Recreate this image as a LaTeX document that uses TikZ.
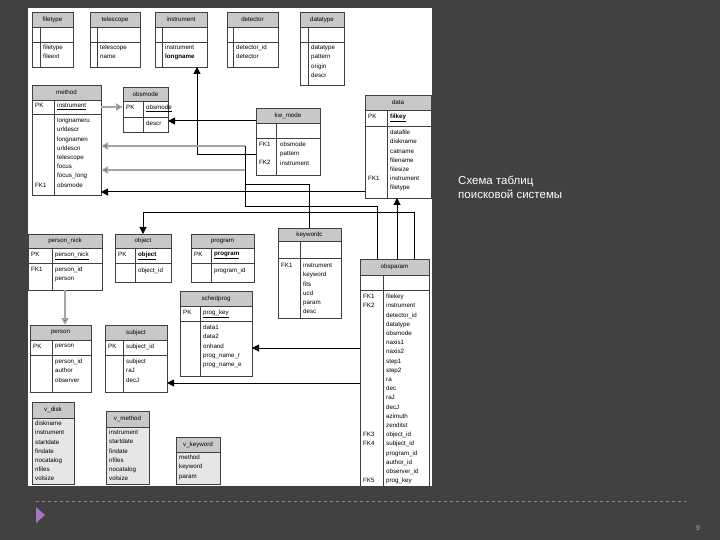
\documentclass[tikz,border=0pt]{standalone}
\usepackage{fontspec}
\setmainfont{Liberation Sans}
\usetikzlibrary{arrows.meta}
\definecolor{bg}{HTML}{414141}
\definecolor{hdr}{HTML}{C8C8C8}
\definecolor{vb}{HTML}{E6E6E6}
\definecolor{pur}{HTML}{A674C4}
\tikzset{
 txt/.style={anchor=north west,inner sep=0pt,align=left,font=\fontsize{6.2}{9.2}\selectfont},
 ttl/.style={inner sep=0pt,font=\fontsize{6.2}{7}\selectfont},
 tb/.style={draw=black!75,line width=0.6pt},
 cb/.style={draw=black,line width=1pt,-{Triangle[length=7pt,width=7pt]}},
 cbn/.style={draw=black,line width=1pt},
 cg/.style={draw=black!35,line width=1.8pt,-{Triangle[length=7pt,width=7pt,fill=black]}},
}
% name x1 x2 div y1 yh yk y2 title
\newcommand\ertbl[9]{%
 \fill[hdr] (#2,#5) rectangle (#3,#6);
 \draw[tb] (#2,#5) rectangle (#3,#8);
 \draw[tb] (#2,#6) -- (#3,#6) (#2,#7) -- (#3,#7) (#4,#6) -- (#4,#8);
 \node[ttl] (#1) at ({(#2+#3)/2},{(#5+#6)/2}) {#9};
 \coordinate (#1-se) at (#3,#8);}
\newcommand\vtbl[7]{%
 \fill[vb] (#2,#4) rectangle (#3,#6);
 \fill[hdr] (#2,#4) rectangle (#3,#5);
 \draw[tb] (#2,#4) rectangle (#3,#6) (#2,#5) -- (#3,#5);
 \node[ttl] (#1) at ({(#2+#3)/2},{(#4+#5)/2}) {#7};}
\begin{document}
\begin{tikzpicture}[x=1pt,y=-1pt]
\fill[bg] (0,0) rectangle (720,540);
\useasboundingbox (0,0) rectangle (720,540);
\fill[white] (28,8) rectangle (432,486);
% top row
\ertbl{filetype}{32}{73}{40}{12}{27}{42}{67}{filetype}
\node[txt] at (43,45) {filetype\\fileext};
\ertbl{telescope}{90}{140}{97}{12}{27}{42}{67}{telescope}
\node[txt] at (100,45) {telescope\\name};
\ertbl{instrument}{155}{207}{162}{12}{27}{42}{67}{instrument}
\node[txt] at (165,45) {instrument\\\textbf{longname}};
\ertbl{detector}{227}{278}{233}{12}{27}{42}{67}{detector}
\node[txt] at (236,45) {detector\_id\\detector};
\ertbl{datatype}{300}{344}{308}{12}{27}{42}{85}{datatype}
\node[txt] at (311,45) {datatype\\pattern\\origin\\descr};
% method
\ertbl{method}{32}{101}{54}{85}{100}{114}{195}{method}
\node[txt] at (35,103) {PK};
\node[txt] at (57,103) {\underline{instrument}};
\node[txt] at (57,118) {longnameru\\urldescr\\longnamen\\urldescn\\telescope\\focus\\focus\_long\\obsmode};
\node[txt] at (35,183) {FK1};
% obsmode
\ertbl{obsmode}{123}{168}{143}{87}{101}{117}{132}{obsmode}
\node[txt] at (126,105) {PK};
\node[txt] at (146,105) {\underline{obsmode}};
\node[txt] at (146,121) {descr};
% kw_mode
\ertbl{kwmode}{256}{320}{276}{108}{123}{138}{175}{kw\_mode}
\node[txt] at (259,142) {FK1};
\node[txt] at (259,160.4) {FK2};
\node[txt] at (280,142) {obsmode\\pattern\\instrument};
% data
\ertbl{data}{365}{431}{387}{95}{110}{126}{198}{data}
\node[txt] at (368,114) {PK};
\node[txt] at (390,114) {\underline{\textbf{filkey}}};
\node[txt] at (390,130) {datafile\\diskname\\catname\\filename\\filesize\\instrument\\filetype};
\node[txt] at (368,176) {FK1};
% person_nick
\ertbl{personnick}{28}{102}{52}{234}{248}{263}{290}{person\_nick}
\node[txt] at (31,252) {PK};
\node[txt] at (55,252) {\underline{person\_nick}};
\node[txt] at (31,267) {FK1};
\node[txt] at (55,267) {person\_id\\person};
% object
\ertbl{object}{115}{171}{135}{234}{248}{263}{282}{object}
\node[txt] at (118,252) {PK};
\node[txt] at (138,252) {\underline{\textbf{object}}};
\node[txt] at (138,268) {object\_id};
% program
\ertbl{program}{191}{254}{211}{234}{248}{263}{282}{program}
\node[txt] at (194,252) {PK};
\node[txt] at (214,252) {\underline{\textbf{program}}};
\node[txt] at (214,268) {program\_id};
% keywordc
\ertbl{keywordc}{278}{341}{300}{228}{241}{258}{318}{keywordc}
\node[txt] at (281,263) {FK1};
\node[txt] at (303,263) {instrument\\keyword\\fits\\ucd\\param\\desc};
% schedprog
\ertbl{schedprog}{180}{252}{200}{291}{306}{321}{376}{schedprog}
\node[txt] at (183,310) {PK};
\node[txt] at (203,310) {\underline{prog\_key}};
\node[txt] at (203,325) {data1\\data2\\onhand\\prog\_name\_r\\prog\_name\_e};
% person
\ertbl{person}{30}{91}{52}{325}{340}{355}{392}{person}
\node[txt] at (33,344) {PK};
\node[txt] at (55,344) {person};
\node[txt] at (55,359) {person\_id\\author\\observer};
% subject
\ertbl{subject}{105}{167}{123}{325}{340}{355}{392}{subject}
\node[txt] at (108,344) {PK};
\node[txt] at (126,344) {subject\_id};
\node[txt] at (126,359) {subject\\raJ\\decJ};
% obsparam
\ertbl{obsparam}{360}{429}{383}{259}{275}{290}{486}{obsparam}
\node[txt] at (363,294) {FK1\\FK2};
\node[txt] at (363,432) {FK3\\FK4};
\node[txt] at (363,478) {FK5};
\node[txt] at (386,294) {filekey\\instrument\\detector\_id\\datatype\\obsmode\\naxis1\\naxis2\\step1\\step2\\ra\\dec\\raJ\\decJ\\azimuth\\zenditst\\object\_id\\subject\_id\\program\_id\\author\_id\\observer\_id\\prog\_key};
% views
\vtbl{vdisk}{32}{74}{402}{418}{484}{v\_disk}
\node[txt] at (35,421) {diskname\\instrument\\startdate\\findate\\nocatalog\\nfiles\\volsize};
\vtbl{vmethod}{106}{149}{411}{427}{484}{v\_method}
\node[txt] at (109,430) {instrument\\startdate\\findate\\nfiles\\nocatalog\\volsize};
\vtbl{vkeyword}{176}{220}{437}{452}{484}{v\_keyword}
\node[txt] at (179,455) {method\\keyword\\param};
% connectors
\draw[cg] (101,107) -- (123,107);
\draw[cb] (256,121) -- (168,121);
\draw[cb] (256,155) -- (197,155) -- (197,67);
\draw[cg] (245,146) -- (101,146);
\draw[cg] (245,170) -- (101,170);
\draw[cb] (365,192) -- (101,192);
\draw[cbn] (245,146) -- (245,207) -- (377,207) -- (377,259);
\draw[cbn] (245,185) -- (309,185) -- (309,228);
\draw[cb] (414,259) -- (414,213) -- (143,213) -- (143,234);
\draw[cb] (397,259) -- (397,198);
\draw[cg] (65,290) -- (65,325);
\draw[cb] (360,348) -- (252,348);
\draw[cb] (360,383) -- (167,383);
% slide text
\node[anchor=west,inner sep=0pt,text=white,font=\fontsize{11.5}{14}\selectfont,align=left] (ttl) at (458,187) {Схема таблиц\\поисковой системы};
\draw[pur!80!gray,dashed,line width=0.6pt] (36,501) -- (686,501);
\fill[pur] (36,507) -- (45,515) -- (36,523) -- cycle;
\node[text=black!30,font=\fontsize{7}{8}\selectfont] (pg) at (698,528) {9};
\end{tikzpicture}
\end{document}
